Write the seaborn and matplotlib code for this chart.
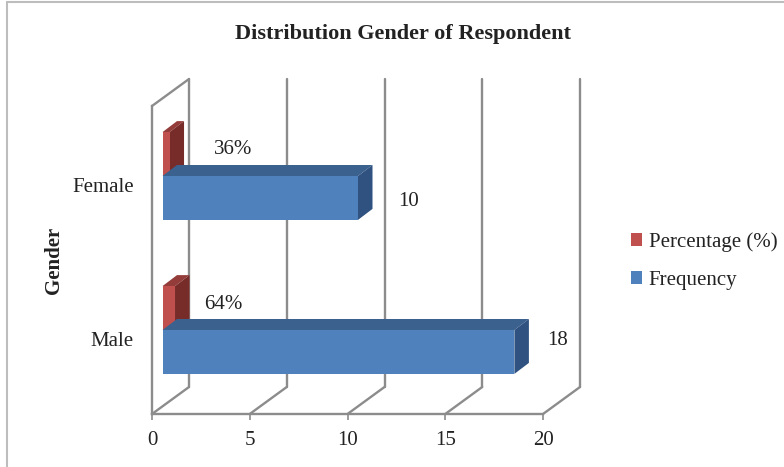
import pandas as pd
import matplotlib.pyplot as plt
from matplotlib.lines import Line2D
from matplotlib.patches import Polygon
import seaborn as sns

genders = ["Female", "Male"]
frequency = [10, 18]
percentage = [0.36, 0.64]
freq_labels = ["10", "18"]
pct_labels = ["36%", "64%"]
x_ticks = [0, 5, 10, 15, 20]

BLUE = "#4F81BD"
BLUE_TOP = "#3B618F"
BLUE_SIDE = "#2F5280"
RED = "#C0504D"
RED_TOP = "#933C3A"
RED_SIDE = "#772C2A"
GRID = "#8C8C8C"
TEXT = "#222222"

W, H = 784, 467

sns.set_style("white")
plt.rcParams["font.family"] = ["Liberation Serif", "DejaVu Serif"]

df = pd.DataFrame(
    {
        "Gender": genders * 2,
        "Measure": ["Percentage (%)"] * 2 + ["Frequency"] * 2,
        "Value": percentage + frequency,
    }
)

fig = plt.figure(figsize=(W / 100, H / 100), dpi=100)
# the axes box is the front plane of the fake 3D chart
ax = fig.add_axes([152 / W, (H - 414) / H, 391 / W, 308 / H])

sns.barplot(
    data=df,
    y="Gender",
    x="Value",
    hue="Measure",
    order=genders,
    hue_order=["Percentage (%)", "Frequency"],
    palette=[RED, BLUE],
    orient="h",
    width=0.57,
    gap=0,
    saturation=1,
    linewidth=0,
    legend=False,
    ax=ax,
)

ax.set_xlim(0, 20)
ax.set_ylim(1.487, -0.513)
ax.set_xticks(x_ticks)

# pixels to data units
px_x = 20 / 391
px_y = 2 / 308


def depth(dx, dy):
    return dx * px_x, -dy * px_y


# back wall and floor
wall_x, wall_y = depth(37, 27)
y_low, y_high = ax.get_ylim()
line_kw = dict(color=GRID, lw=1.7, clip_on=False, zorder=1, solid_capstyle="round")
for t in x_ticks:
    ax.plot([t + wall_x] * 2, [y_low + wall_y, y_high + wall_y], **line_kw)
    ax.plot([t, t + wall_x], [y_low, y_low + wall_y], **line_kw)
ax.plot([0, wall_x], [y_high, y_high + wall_y], **line_kw)

# move bars into the middle of the depth and add top and side faces
shift_x, shift_y = depth(10.5, 9)
bar_x, bar_y = depth(14.5, 11)
faces = [(RED_TOP, RED_SIDE, 3), (BLUE_TOP, BLUE_SIDE, 5)]
for container, (top_col, side_col, z) in zip(ax.containers, faces):
    for bar in container:
        bar.set_x(bar.get_x() + shift_x)
        bar.set_y(bar.get_y() + shift_y)
        bar.set_zorder(z + 1)
        x0, y0 = bar.get_x(), bar.get_y()
        x1, y1 = x0 + bar.get_width(), y0 + bar.get_height()
        top = [(x0, y0), (x1, y0), (x1 + bar_x, y0 + bar_y), (x0 + bar_x, y0 + bar_y)]
        side = [(x1, y0), (x1 + bar_x, y0 + bar_y), (x1 + bar_x, y1 + bar_y), (x1, y1)]
        ax.add_patch(Polygon(top, color=top_col, lw=0, zorder=z, clip_on=False))
        ax.add_patch(Polygon(side, color=side_col, lw=0, zorder=z, clip_on=False))

# data labels, placed by hand as in the original
freq_off = [(61, -16), (54, -1)]
pct_off = [(74, 36), (59, 35)]
label_kw = dict(
    textcoords="offset pixels", ha="center", va="center", fontsize=15, color=TEXT,
    annotation_clip=False, zorder=8,
)
for i in range(len(genders)):
    ax.annotate(freq_labels[i], (frequency[i], i), xytext=freq_off[i], **label_kw)
    ax.annotate(pct_labels[i], (percentage[i], i), xytext=pct_off[i], **label_kw)

for s in ["top", "right"]:
    ax.spines[s].set_visible(False)
for s in ["left", "bottom"]:
    ax.spines[s].set_color(GRID)
    ax.spines[s].set_linewidth(1.7)
ax.patch.set_alpha(0)

ax.tick_params(axis="x", bottom=True, length=4.5, width=1.2, color=GRID, pad=8,
               labelsize=15, labelcolor=TEXT)
ax.tick_params(axis="y", left=False, pad=9.5, labelsize=15, labelcolor=TEXT)
ax.set_xlabel("")
ax.set_ylabel("Gender", fontsize=15, fontweight="bold", color=TEXT)
ax.yaxis.set_label_coords((64 - 152) / 391, 0.5)

fig.text(403 / W, (H - 34) / H, "Distribution Gender of Respondent", ha="center",
         va="center", fontsize=16, fontweight="bold", color=TEXT)

ax.legend(
    [ax.containers[0][0], ax.containers[1][0]],
    ["Percentage (%)", "Frequency"],
    loc="upper left",
    bbox_to_anchor=(631 / W, (H - 232) / H),
    bbox_transform=fig.transFigure,
    frameon=False,
    fontsize=15,
    labelcolor=TEXT,
    handlelength=0.55,
    handleheight=0.55,
    handletextpad=0.3,
    labelspacing=0.92,
    borderpad=0,
    borderaxespad=0,
)

# outer chart frame, only top and left are inside the crop
frame_kw = dict(color="#BDBDBD", lw=1.5, transform=fig.transFigure)
fig.add_artist(Line2D([7 / W, 1], [(H - 2) / H] * 2, **frame_kw))
fig.add_artist(Line2D([7 / W] * 2, [0, (H - 2) / H], **frame_kw))

fig.savefig("out.png", dpi=100)
